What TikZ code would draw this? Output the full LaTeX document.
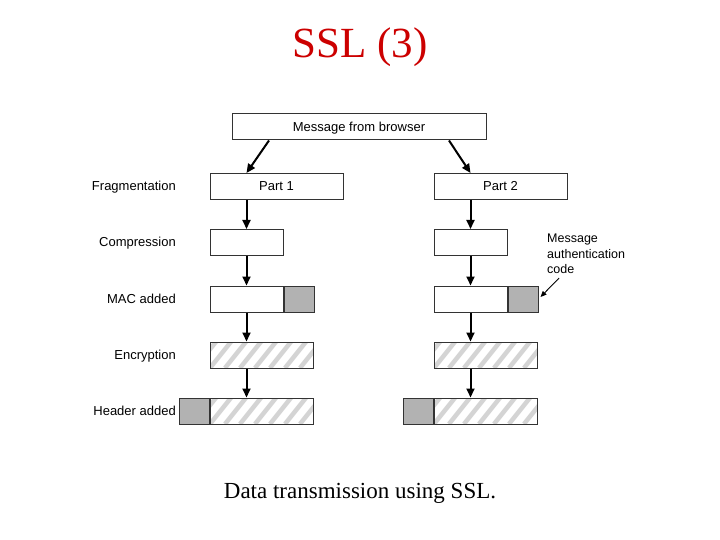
\documentclass[tikz,border=0pt]{standalone}
\usepackage{fontspec}
\setmainfont{Liberation Serif}
\setsansfont{Liberation Sans}
\usetikzlibrary{arrows.meta,positioning}
\definecolor{titlered}{RGB}{204,0,0}

\begin{document}
\begin{tikzpicture}[
    x=1pt, y=-1pt,
    box/.style={draw=black!80, line width=1pt, fill=white, minimum height=26pt, inner sep=0pt, text height=9.5pt, text depth=0.5pt, font=\sffamily\fontsize{13}{15}\selectfont},
    macbox/.style={box, fill=black!30, minimum width=30pt},
    hatchbox/.style={box, minimum width=103pt, path picture={
        \foreach \i in {-45,-30,...,120}
            \draw[black!17, line width=4.5pt] ([xshift=\i pt]path picture bounding box.south west) -- ++(32pt,40pt);
    }},
    steplabel/.style={anchor=base east, inner sep=0pt, font=\sffamily\fontsize{13}{15}\selectfont},
    arrow/.style={-{Triangle[length=9pt,width=8pt]}, line width=2pt, draw=black},
    thinarrow/.style={-{Triangle[length=6pt,width=5pt]}, line width=0.9pt, draw=black}
]
    \useasboundingbox (0,0) rectangle (720,540);

    % Title and caption
    \node[font=\fontsize{43}{50}\selectfont, text=titlered] (title) at (360,47) {SSL (3)};
    \node[font=\fontsize{23}{27}\selectfont] (caption) at (360,493) {Data transmission using SSL.};

    % Message and fragments
    \node[box, minimum width=254pt] (msg) at (359,127) {Message from browser};
    \node[box, minimum width=133pt] (part1) at (276.5,186.5) {Part 1};
    \node[box, minimum width=133pt] (part2) at (500.5,186.5) {Part 2};

    % Compression
    \node[box, minimum width=73pt] (comp1) at (246.5,242.5) {};
    \node[box, minimum width=73pt] (comp2) at (470.5,242.5) {};

    % MAC added
    \node[box, minimum width=73pt] (mac1) at (246.5,299) {};
    \node[macbox, right=0pt of mac1] (mac1b) {};
    \node[box, minimum width=73pt] (mac2) at (470.5,299) {};
    \node[macbox, right=0pt of mac2] (mac2b) {};

    % Encryption
    \node[hatchbox] (enc1) at (261.5,355) {};
    \node[hatchbox] (enc2) at (485.5,355) {};

    % Header added
    \node[hatchbox] (hdr1) at (261.5,411) {};
    \node[macbox, left=0pt of hdr1] (hdr1b) {};
    \node[hatchbox] (hdr2) at (485.5,411) {};
    \node[macbox, left=0pt of hdr2] (hdr2b) {};

    % Step labels
    \node[steplabel] (lfrag) at (176,191) {Fragmentation};
    \node[steplabel] (lcomp) at (176,247) {Compression};
    \node[steplabel] (lmac) at (176,303) {MAC added};
    \node[steplabel] (lenc) at (176,359) {Encryption};
    \node[steplabel] (lhdr) at (176,415) {Header added};

    \node[anchor=north west, inner sep=0pt, align=left, font=\sffamily\fontsize{12.5}{15.5}\selectfont] (maclab) at (547,234) {Message\\authentication\\code};

    % Arrows
    \draw[arrow] ([xshift=-90pt]msg.south) -- (part1.north -| comp1);
    \draw[arrow] ([xshift=90pt]msg.south) -- (part2.north -| comp2);
    \draw[arrow] (comp1 |- part1.south) -- (comp1);
    \draw[arrow] (comp2 |- part2.south) -- (comp2);
    \draw[arrow] (comp1) -- (mac1);
    \draw[arrow] (comp2) -- (mac2);
    \draw[arrow] (mac1) -- (mac1 |- enc1.north);
    \draw[arrow] (mac2) -- (mac2 |- enc2.north);
    \draw[arrow] (mac1 |- enc1.south) -- (mac1 |- hdr1.north);
    \draw[arrow] (mac2 |- enc2.south) -- (mac2 |- hdr2.north);
    \draw[thinarrow] ([xshift=12pt,yshift=-4pt]maclab.south west) -- ([xshift=2pt,yshift=2pt]mac2b.east);

\end{tikzpicture}
\end{document}
